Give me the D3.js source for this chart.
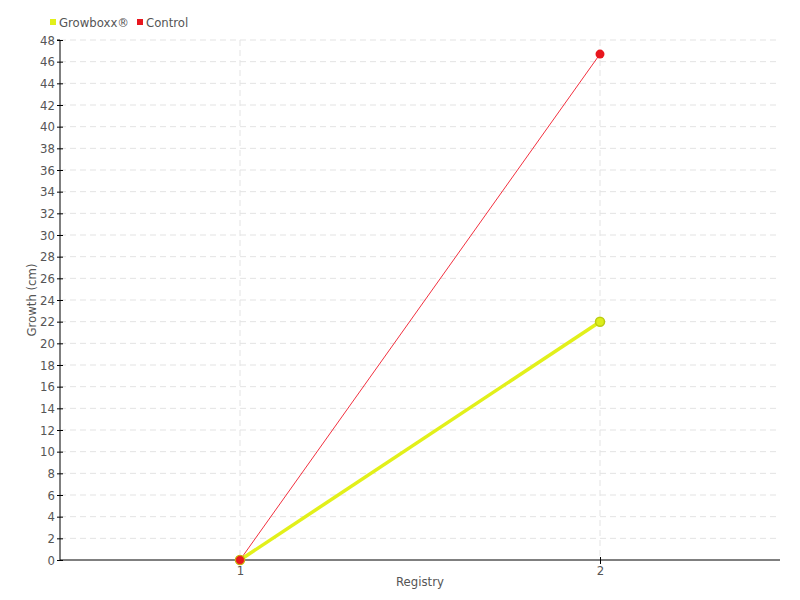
<!DOCTYPE html>
<html>
<head>
<meta charset="utf-8">
<script src="https://cdn.jsdelivr.net/npm/d3@7"></script>
<style>
  body { margin: 0; background: #fff; }
  text { font-family: "DejaVu Sans", "Roboto", sans-serif; font-stretch: condensed; fill: #555; }
</style>
</head>
<body>
<svg id="chart" width="800" height="600"></svg>
<script>
const registry = [1, 2];
const growboxx = [0, 22];
const control = [0, 46.7];
const yTicks = d3.range(0, 49, 2);
const seriesNames = ['Growboxx\u00ae', 'Control'];

const svg = d3.select('#chart');
const margin = {left: 60, right: 20, top: 40, bottom: 40};
const width = 800, height = 600;

const x = d3.scaleLinear().domain([0.5, 2.5]).range([margin.left, width - margin.right]);
const y = d3.scaleLinear().domain([0, 48]).range([height - margin.bottom, margin.top]);

// grid
svg.append('g').selectAll('line').data(yTicks.slice(1)).join('line')
  .attr('x1', margin.left).attr('x2', width - margin.right)
  .attr('y1', d => y(d)).attr('y2', d => y(d))
  .attr('stroke', '#e3e3e3').attr('stroke-dasharray', '6,4');
svg.append('g').selectAll('line').data(registry).join('line')
  .attr('x1', d => x(d)).attr('x2', d => x(d))
  .attr('y1', margin.top).attr('y2', height - margin.bottom)
  .attr('stroke', '#e3e3e3').attr('stroke-dasharray', '6,4');

// axes
const yAxis = svg.append('g').attr('transform', 'translate(' + margin.left + ',0)')
  .call(d3.axisLeft(y).tickValues(yTicks).tickSize(3));
yAxis.selectAll('.tick line').attr('x1', -3).attr('x2', 3);
yAxis.selectAll('text').style('font-size', '13px').attr('x', -5);
yAxis.select('.domain').attr('d', 'M-3,' + y(48) + 'H0V' + y(0));

const xAxis = svg.append('g').attr('transform', 'translate(0,' + (height - margin.bottom) + ')')
  .call(d3.axisBottom(x).tickValues(registry).tickFormat(d3.format('d')).tickSize(4));
xAxis.selectAll('.tick line').attr('y1', -3).attr('y2', 4);
xAxis.selectAll('text').style('font-size', '13px').attr('y', 6);
xAxis.select('.domain').attr('d', 'M' + margin.left + ',0H' + (width - margin.right));

svg.selectAll('.domain, .tick line').attr('stroke', '#000');

// axis titles
svg.append('text').attr('x', (margin.left + width - margin.right) / 2).attr('y', 586)
  .attr('text-anchor', 'middle').style('font-size', '13px').text('Registry');
svg.append('text').attr('transform', 'translate(36,' + y(24) + ') rotate(-90)')
  .attr('text-anchor', 'middle').style('font-size', '13px').text('Growth (cm)');

// lines
const line = d3.line().x((d, i) => x(registry[i])).y(d => y(d));
svg.append('path').datum(control).attr('d', line)
  .attr('fill', 'none').attr('stroke', '#f2303f').attr('stroke-width', 1);
svg.append('path').datum(growboxx).attr('d', line)
  .attr('fill', 'none').attr('stroke', '#e2f01a').attr('stroke-width', 3.5);

svg.append('g').selectAll('circle').data(growboxx).join('circle')
  .attr('cx', (d, i) => x(registry[i])).attr('cy', d => y(d)).attr('r', 4.5)
  .attr('fill', '#dcee1c').attr('stroke', '#bccc10').attr('stroke-width', 1.5);
svg.append('g').selectAll('circle').data(control).join('circle')
  .attr('cx', (d, i) => x(registry[i])).attr('cy', d => y(d)).attr('r', 4.5)
  .attr('fill', '#e8161e').attr('stroke', '#d4b010').attr('stroke-width', 0.8)
  .attr('stroke-opacity', (d, i) => i === 0 ? 1 : 0);

// legend
const legendColors = ['#e2f01a', '#e8161e'];
const legendX = [50, 137];
const legend = svg.append('g').selectAll('g').data(seriesNames).join('g')
  .attr('transform', (d, i) => 'translate(' + legendX[i] + ',20)');
legend.append('rect').attr('width', 6).attr('height', 6).attr('y', -1)
  .attr('fill', (d, i) => legendColors[i]);
legend.append('text').attr('x', 9).attr('y', 7).style('font-size', '13px').text(d => d);
</script>
</body>
</html>
